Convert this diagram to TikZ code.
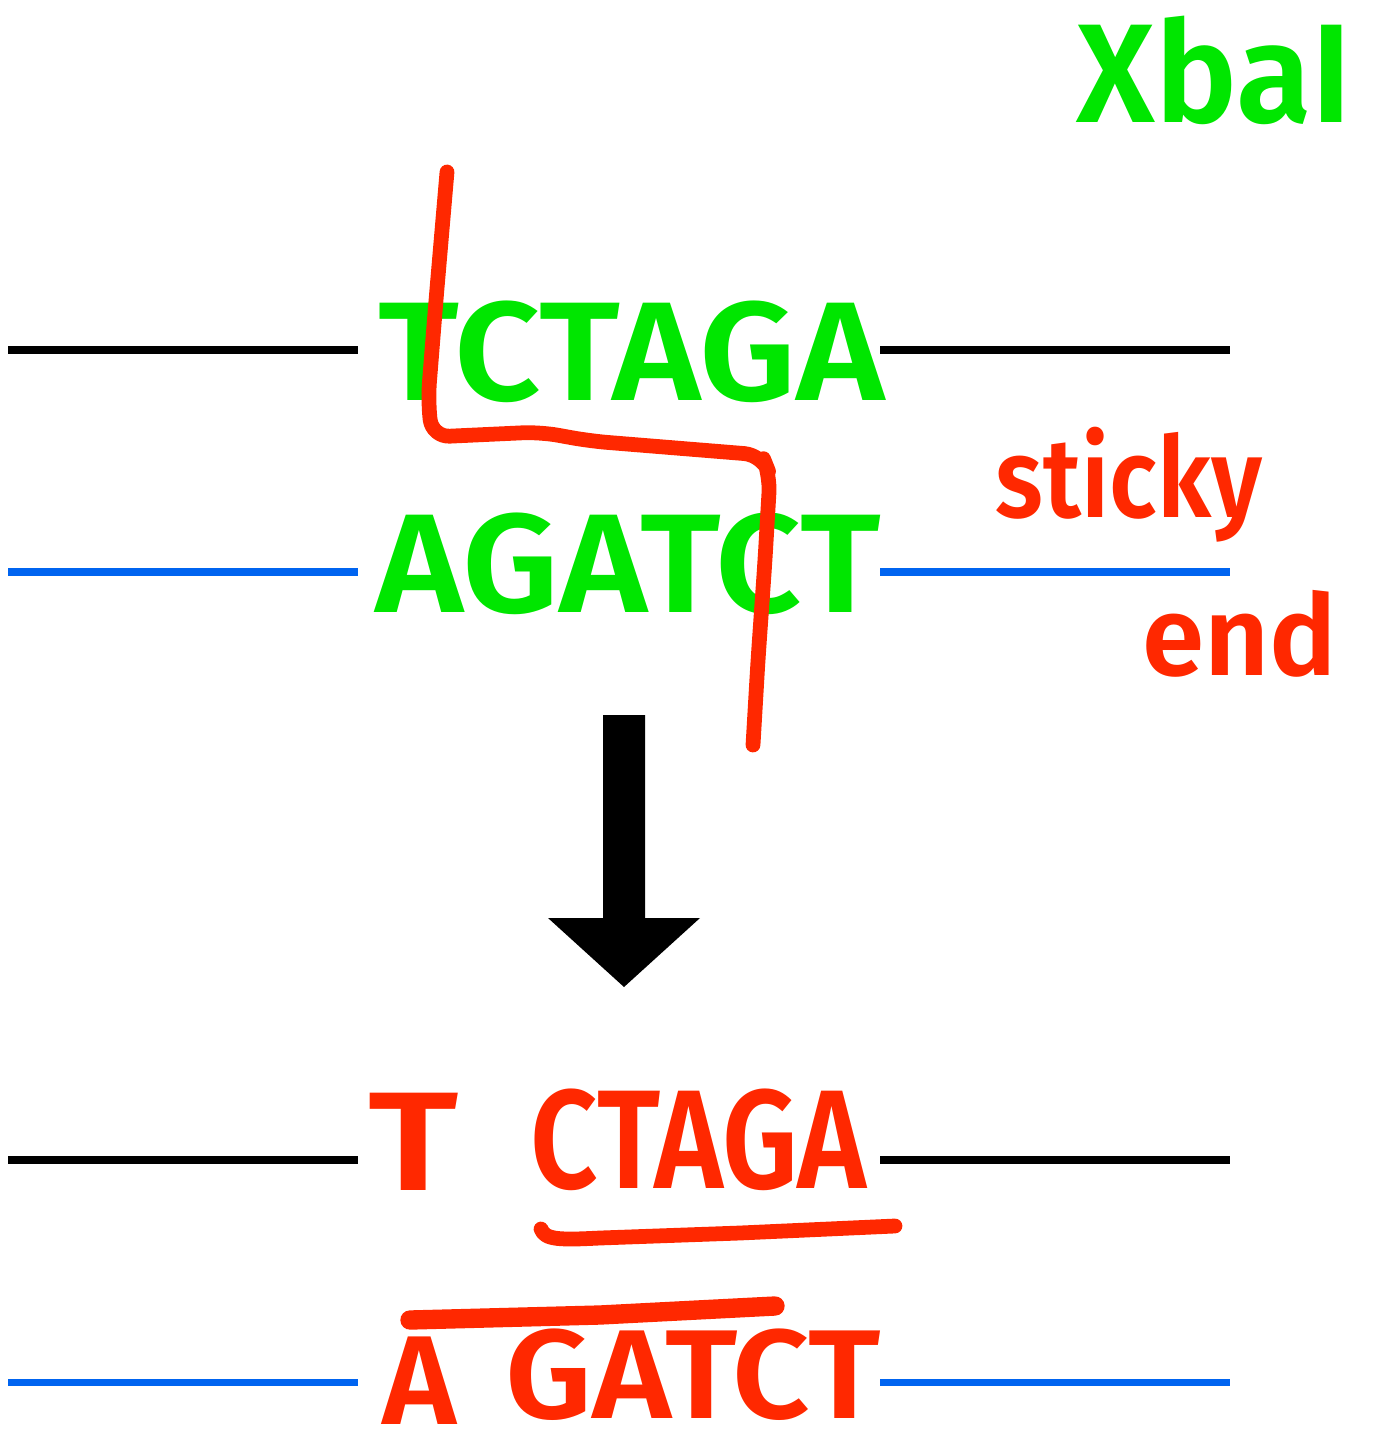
\documentclass[tikz,border=0pt]{standalone}
\usepackage{fontspec}
\setmainfont{Fira Sans}[BoldFont={Fira Sans SemiBold}]
\usepackage{tikz}
\usetikzlibrary{positioning}

\definecolor{penGreen}{RGB}{0,230,0}
\definecolor{penRed}{RGB}{255,40,0}
\definecolor{strandBlue}{RGB}{0,100,240}

\tikzset{
  strand/.style={line width=2pt},
  base/.style={font=\fontsize{40}{40}\selectfont\bfseries, inner sep=0pt, anchor=base west},
  lowbase/.style={base, font=\fontsize{36}{36}\selectfont\bfseries, text=penRed},
  note/.style={font=\fontsize{32}{32}\selectfont\bfseries, inner sep=0pt, anchor=base west, text=penRed},
  pen/.style={penRed, line width=4.2pt, line cap=round, line join=round}
}

\begin{document}
\begin{tikzpicture}[x=0.01cm,y=-0.01cm]
\useasboundingbox (0,0) rectangle (1381,1455);

% upper duplex before cutting
\node[base, text=penGreen, xscale=1.075] (topseq) at (378,400) {TCTAGA};
\node[base, text=penGreen, xscale=1.072] (botseq) at (375,612) {AGATCT};
\node[base, text=penGreen, xscale=0.98] (enzyme) at (1076,123) {XbaI};

\coordinate (a1) at (8,350);    \coordinate (a2) at (358,350);
\coordinate (a3) at (880,350);  \coordinate (a4) at (1230,350);
\coordinate (b1) at (8,572);    \coordinate (b2) at (358,572);
\coordinate (b3) at (880,572);  \coordinate (b4) at (1230,572);
\draw[strand] (a1) -- (a2);
\draw[strand] (a3) -- (a4);
\draw[strand, strandBlue] (b1) -- (b2);
\draw[strand, strandBlue] (b3) -- (b4);

% staggered cut
\draw[pen, rounded corners=5pt] (447,172) -- (436,300) -- (428,400) -- (432,437)
  -- (540,432) -- (590,441) -- (762,455) -- (770,475) -- (765,560)
  -- (758,660) -- (753,745);

\node[note, xscale=0.886] (sticky) at (995,517) {sticky};
\node[note] (stickyend) at (1142,675) {end};

% arrow down
\fill (603,715) -- (645,715) -- (645,918) -- (700,918) -- (624,987)
  -- (548,918) -- (603,918) -- cycle;

% fragments after cutting
\node[base, text=penRed, xscale=1.2] (tl) at (368,1190) {T};
\node[base, text=penRed, xscale=0.84] (tr) at (530,1188) {CTAGA};
\node[lowbase] (bl) at (382,1424) {A};
\node[lowbase, xscale=1.07] (br) at (505,1418) {GATCT};

\coordinate (c1) at (8,1160);    \coordinate (c2) at (358,1160);
\coordinate (c3) at (880,1160);  \coordinate (c4) at (1230,1160);
\coordinate (d1) at (8,1382);    \coordinate (d2) at (358,1382);
\coordinate (d3) at (880,1382);  \coordinate (d4) at (1230,1382);
\draw[strand] (c1) -- (c2);
\draw[strand] (c3) -- (c4);
\draw[strand, strandBlue] (d1) -- (d2);
\draw[strand, strandBlue] (d3) -- (d4);

% overhang marks
\draw[pen] (541,1229) .. controls (545,1240) and (560,1240) .. (600,1238)
  -- (740,1233) -- (895,1226);
\draw[pen, line width=5.5pt] (410,1320) -- (600,1315) -- (775,1306);
\end{tikzpicture}
\end{document}
